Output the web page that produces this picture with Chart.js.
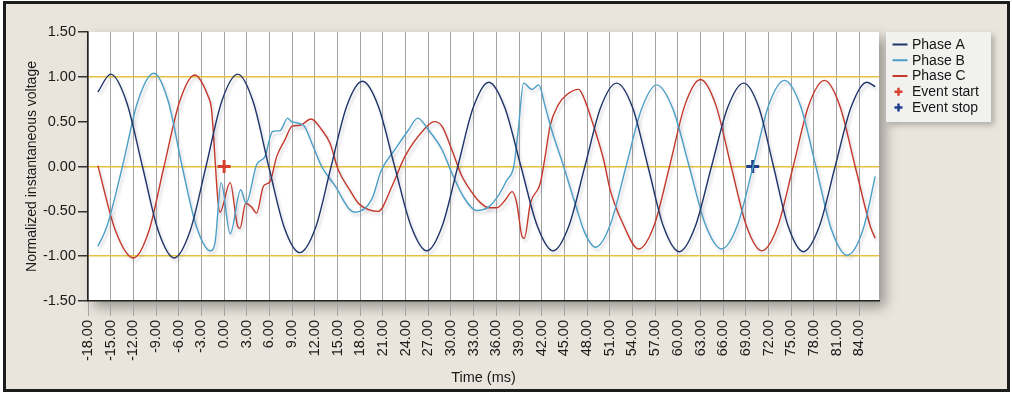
<!DOCTYPE html>
<html>
<head>
<meta charset="utf-8">
<script src="https://cdn.jsdelivr.net/npm/chart.js@4.4.1/dist/chart.umd.min.js"></script>
<style>
html,body{margin:0;padding:0;background:#fff;overflow:hidden;}
canvas{display:block;}
</style>
</head>
<body>
<canvas id="c" width="1012" height="395"></canvas>
<script>
// ---- Data ----
const seriesLabels = ['Phase A', 'Phase B', 'Phase C', 'Event start', 'Event stop'];

const phaseATime = [-16.7,-15.0,-12.9,-10.8,-8.7,-6.6,-4.5,-2.4,-0.3,1.8,3.85,5.9,7.95,10.0,12.1,14.15,16.2,18.3,20.4,22.55,24.7,26.8,28.85,30.9,32.95,35.0,37.1,39.25,41.4,43.5,45.6,47.7,49.8,51.9,54.0,56.05,58.1,60.2,62.3,64.45,66.6,68.7,70.7,72.65,74.6,76.6,78.7,80.8,82.9,85.0,86.1];
const phaseAValue = [0.83,1.03,0.72,0.00,-0.72,-1.02,-0.72,0.00,0.73,1.03,0.72,0.00,-0.68,-0.96,-0.68,0.00,0.67,0.95,0.67,0.00,-0.66,-0.94,-0.66,0.00,0.66,0.94,0.66,0.00,-0.66,-0.94,-0.66,0.00,0.66,0.93,0.66,0.00,-0.67,-0.95,-0.67,0.00,0.66,0.93,0.66,0.00,-0.67,-0.95,-0.67,0.00,0.66,0.94,0.89];

const phaseBTime = [-16.7,-15.5,-13.45,-11.4,-9.3,-7.4,-5.55,-3.7,-1.8,-1.2,-0.4,0.8,2.2,2.9,4.3,5.4,6.4,7.4,8.4,8.9,10.5,11.6,12.9,14.7,16.6,17.3,19.5,20.8,22.6,24.4,25.6,27.0,28.8,30.1,31.6,33.4,35.0,36.3,37.4,38.3,38.9,39.6,40.7,41.6,42.45,43.3,44.9,46.4,47.7,49.1,51.1,53.15,55.2,57.2,59.35,61.5,63.65,65.8,67.9,69.95,72.0,74.1,76.2,78.25,80.3,82.4,84.5,86.1];
const phaseBValue = [-0.89,-0.67,0.00,0.73,1.04,0.73,0.00,-0.66,-0.94,-0.85,-0.18,-0.75,-0.26,-0.41,0.02,0.11,0.39,0.40,0.54,0.50,0.46,0.26,0.00,-0.22,-0.48,-0.51,-0.37,-0.04,0.19,0.41,0.54,0.41,0.19,-0.07,-0.33,-0.49,-0.45,-0.32,-0.15,0.00,0.41,0.93,0.86,0.91,0.67,0.41,0.00,-0.41,-0.74,-0.90,-0.64,0.00,0.64,0.91,0.64,0.00,-0.65,-0.92,-0.65,0.00,0.68,0.96,0.68,0.00,-0.70,-0.99,-0.70,-0.11];

const phaseCTime = [-16.7,-14.35,-12.0,-9.95,-7.95,-5.9,-3.9,-2.1,-1.7,-0.55,0.8,1.8,2.1,2.85,3.6,4.3,5.2,6.05,6.95,8.05,9.0,10.05,11.5,12.9,14.0,15.1,16.6,17.75,19.1,20.4,22.2,23.9,26.4,27.8,28.8,30.1,31.4,32.7,33.85,35.0,36.1,37.2,38.1,38.7,39.4,39.7,40.5,41.8,42.45,43.1,44.2,45.3,46.9,47.5,48.6,50.2,51.05,52.8,54.8,56.85,58.9,60.95,63.0,65.0,67.05,69.1,71.1,73.2,75.25,77.3,79.4,81.4,83.45,85.5,86.1];
const phaseCValue = [0.01,-0.72,-1.02,-0.72,0.00,0.72,1.02,0.78,0.66,-0.51,-0.18,-0.67,-0.69,-0.41,-0.45,-0.52,-0.22,-0.17,0.11,0.30,0.45,0.46,0.53,0.41,0.26,-0.04,-0.26,-0.41,-0.48,-0.50,-0.22,0.11,0.41,0.50,0.45,0.19,-0.10,-0.28,-0.40,-0.46,-0.46,-0.37,-0.28,-0.41,-0.78,-0.80,-0.41,-0.19,0.11,0.45,0.69,0.80,0.86,0.78,0.52,0.07,-0.26,-0.65,-0.92,-0.66,0.00,0.69,0.97,0.69,0.00,-0.67,-0.94,-0.67,0.00,0.68,0.96,0.68,0.00,-0.68,-0.80];

const eventStartTime = [0];
const eventStartValue = [0];
const eventStopTime = [69.9];
const eventStopValue = [0];

// axis settings (tick values)
const xMin = -18, xMax = 86.6, xStep = 3;
const yMin = -1.5, yMax = 1.5, yStep = 0.5;
const yHighlight = [-1, 0, 1];

// ---- styling ----
const FONT = "'Liberation Sans',Arial,Helvetica,sans-serif";
const colA = '#1f3469', colB = '#4b9fc6', colC = '#c4392a', colStart = '#d8412e', colStop = '#1f3f8c';

function pts(xs, ys){ return xs.map((x,i)=>({x:x, y:ys[i]})); }

const framePlugin = {
  id: 'frame',
  beforeDraw(chart){
    const ctx = chart.ctx, W = chart.width, H = chart.height, a = chart.chartArea;
    ctx.save();
    ctx.fillStyle = '#ffffff'; ctx.fillRect(0,0,W,H);
    ctx.fillStyle = '#e9e4dc'; ctx.fillRect(4,2,1005,389);
    ctx.strokeStyle = '#1c1c1c'; ctx.lineWidth = 3; ctx.strokeRect(4.5,2.5,1004,388);
    ctx.shadowColor = 'rgba(0,0,0,0.35)'; ctx.shadowBlur = 12; ctx.shadowOffsetX = 6; ctx.shadowOffsetY = 6;
    ctx.fillStyle = '#ffffff'; ctx.fillRect(a.left, a.top, a.right-a.left, a.bottom-a.top);
    ctx.restore();
  },
  beforeDatasetDraw(chart, args){
    const ctx = chart.ctx;
    ctx.save();
    if (args.index < 3) {
      ctx.shadowColor = 'rgba(60,60,90,0.22)'; ctx.shadowBlur = 3; ctx.shadowOffsetX = 2; ctx.shadowOffsetY = 3;
    }
  },
  afterDatasetDraw(chart){ chart.ctx.restore(); },
  afterDraw(chart){
    const ctx = chart.ctx, a = chart.chartArea;
    const x = a.right + 7, y = a.top, w = 105, h = 90;
    ctx.save();
    ctx.shadowColor = 'rgba(0,0,0,0.25)'; ctx.shadowBlur = 6; ctx.shadowOffsetX = 3; ctx.shadowOffsetY = 3;
    ctx.fillStyle = '#f1f1ef'; ctx.fillRect(x, y, w, h);
    ctx.restore();
    ctx.save();
    ctx.font = '14px ' + FONT; ctx.textBaseline = 'middle'; ctx.textAlign = 'left';
    chart.data.datasets.forEach((ds, i) => {
      const cy = y + 12.5 + i * 15.75;
      ctx.strokeStyle = ds.borderColor;
      if (ds.pointStyle === 'cross') {
        ctx.lineWidth = 2.5;
        ctx.beginPath();
        ctx.moveTo(x + 8.5, cy); ctx.lineTo(x + 16.5, cy);
        ctx.moveTo(x + 12.5, cy - 4); ctx.lineTo(x + 12.5, cy + 4);
        ctx.stroke();
      } else {
        ctx.lineWidth = 2;
        ctx.beginPath(); ctx.moveTo(x + 6.5, cy); ctx.lineTo(x + 21.5, cy); ctx.stroke();
      }
      ctx.fillStyle = '#161616';
      ctx.fillText(ds.label, x + 26, cy + 0.5);
    });
    ctx.restore();
  }
};

const lineDS = (label, xs, ys, color) => ({
  type: 'line', label, data: pts(xs, ys), borderColor: color, backgroundColor: color,
  borderWidth: 1.4, pointRadius: 0, pointHoverRadius: 0, fill: false,
  cubicInterpolationMode: 'monotone'
});
const eventDS = (label, xs, ys, color) => ({
  type: 'scatter', label, data: pts(xs, ys), borderColor: color, backgroundColor: color,
  pointStyle: 'cross', pointRadius: 6.5, borderWidth: 3, showLine: false
});

new Chart(document.getElementById('c'), {
  data: {
    datasets: [
      lineDS(seriesLabels[0], phaseATime, phaseAValue, colA),
      lineDS(seriesLabels[1], phaseBTime, phaseBValue, colB),
      lineDS(seriesLabels[2], phaseCTime, phaseCValue, colC),
      eventDS(seriesLabels[3], eventStartTime, eventStartValue, colStart),
      eventDS(seriesLabels[4], eventStopTime, eventStopValue, colStop)
    ]
  },
  options: {
    responsive: false,
    animation: false,
    events: [],
    layout: { padding: { left: 0, top: 32, right: 133, bottom: 0 } },
    plugins: { legend: { display: false }, tooltip: { enabled: false } },
    scales: {
      x: {
        type: 'linear', min: xMin, max: xMax,
        afterFit(s){ s.height = 94; },
        border: { color: '#222', width: 1.5 },
        grid: { color: '#a3a3a3', lineWidth: 1, tickColor: '#a3a3a3', tickLength: 15 },
        ticks: {
          stepSize: xStep, includeBounds: false, autoSkip: false,
          minRotation: 90, maxRotation: 90, padding: 4,
          color: '#1a1a1a', font: { family: FONT, size: 14.5 },
          callback: v => Number(v).toFixed(2)
        },
        title: { display: true, text: 'Time (ms)', color: '#1a1a1a',
                 font: { family: FONT, size: 14.5 }, padding: { top: 0, bottom: 8.5 } }
      },
      y: {
        type: 'linear', min: yMin, max: yMax,
        afterFit(s){ s.width = 88; },
        border: { color: '#222', width: 1.5 },
        grid: {
          color: c => yHighlight.includes(Math.round(c.tick.value * 100) / 100) ? '#e7c13f' : 'rgba(0,0,0,0)',
          lineWidth: 1.5, tickColor: '#333', tickLength: 10
        },
        ticks: {
          stepSize: yStep, padding: 2, color: '#1a1a1a', font: { family: FONT, size: 14.5 },
          callback: v => Number(v).toFixed(2)
        },
        title: { display: true, text: 'Normalized instantaneous voltage', color: '#1a1a1a',
                 font: { family: FONT, size: 14 }, padding: { top: 23.5, bottom: 0 } }
      }
    }
  },
  plugins: [framePlugin]
});
</script>
</body>
</html>
